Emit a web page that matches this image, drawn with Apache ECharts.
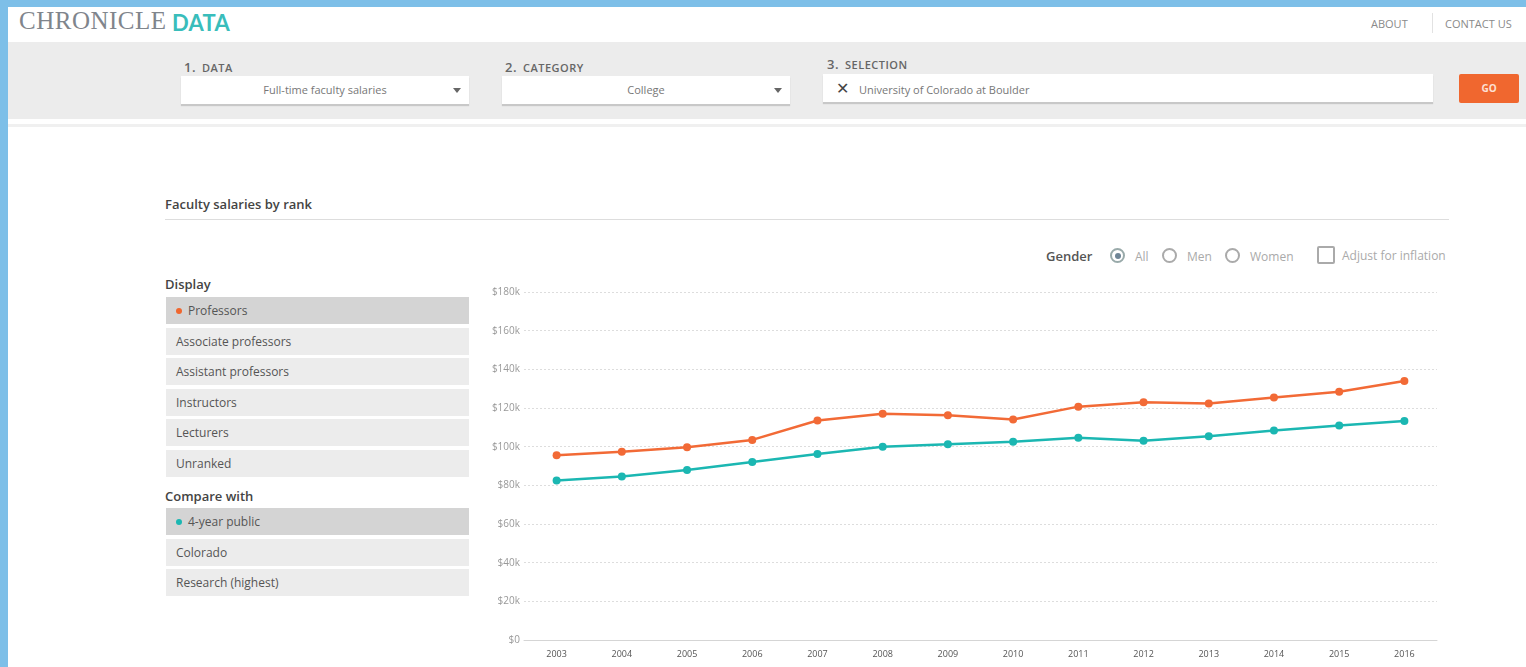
<!DOCTYPE html>
<html>
<head>
<meta charset="utf-8">
<script src="https://cdn.jsdelivr.net/npm/echarts@6/dist/echarts.min.js"></script>
<style>
  html, body { margin:0; padding:0; width:1526px; height:667px; overflow:hidden; background:#7dbfe8; font-family:"Open Sans", Lato, sans-serif; }
  #page { position:absolute; left:8px; top:7px; right:0; bottom:0; background:#fff; }
  .abs { position:absolute; }
  #hdr { left:0; top:0; right:0; height:35px; background:#fff; }
  #band { left:0; top:35px; right:0; height:77px; background:#ececec; border-bottom:1px solid #fff; }
  #sep { left:0; top:117px; right:0; height:3px; background:#f0f0f0; }
  .logo1 { font-family:"Liberation Serif", "DejaVu Serif", serif; font-size:25px; color:#80858c; letter-spacing:0.5px; }
  .logo2 { font-family:Lato, sans-serif; font-weight:bold; font-size:22px; color:#39bdbb; letter-spacing:0.3px; }
  .nav { font-family:"Open Sans", sans-serif; font-size:11px; color:#8a8a8a; }
  .lbl { font-size:11px; color:#666; font-weight:600; letter-spacing:0.5px; }
  .lbl b { font-size:13px; font-weight:600; margin-right:6px; }
  .box { background:#fff; height:28px; box-shadow:0 2px 1px #c8c8c8; font-size:11px; color:#777; line-height:28px; }
  .arrow { position:absolute; right:8px; top:12px; width:0; height:0; border-left:4px solid transparent; border-right:4px solid transparent; border-top:5px solid #666; }
  #go { background:#f0672f; color:#fde0d3; font-size:10px; font-weight:bold; text-align:center; line-height:29px; border-radius:2px; width:60px; height:29px; }
  .title { font-size:13px; font-weight:600; color:#444; }
  .item { left:158px; width:303px; height:27px; background:#ececec; font-size:12px; color:#555; line-height:27px; text-indent:10px; }
  .item.sel { background:#d4d4d4; }
  .dot { display:inline-block; width:6px; height:6px; border-radius:3px; margin-right:6px; vertical-align:1px; text-indent:0; }
  .head { font-size:13px; font-weight:600; color:#444; left:157px; }
  .radio { width:15px; height:15px; border:2px solid #aaa; border-radius:50%; box-sizing:border-box; }
  .small { font-size:12px; color:#aaa; }
  #chart { left:462px; top:263px; width:1000px; height:397px; }
</style>
</head>
<body>
<div id="page">
  <div id="hdr" class="abs">
    <span class="abs logo1" style="left:11px;top:0px;">CHRONICLE</span>
    <span class="abs logo2" style="left:164px;top:2px;">DATA</span>
    <span class="abs nav" style="left:1363px;top:9px;">ABOUT</span>
    <span class="abs" style="left:1424px;top:6px;width:1px;height:20px;background:#e2e2e2;"></span>
    <span class="abs nav" style="left:1437px;top:9px;">CONTACT US</span>
  </div>
  <div id="band" class="abs"></div>
  <div id="sep" class="abs"></div>

  <div class="abs lbl" style="left:176px;top:51px;"><b>1.</b>DATA</div>
  <div class="abs box" style="left:173px;top:69px;width:288px;text-align:center;">Full-time faculty salaries<span class="arrow"></span></div>
  <div class="abs lbl" style="left:497px;top:51px;"><b>2.</b>CATEGORY</div>
  <div class="abs box" style="left:494px;top:69px;width:288px;text-align:center;">College<span class="arrow"></span></div>
  <div class="abs lbl" style="left:819px;top:48px;"><b>3.</b>SELECTION</div>
  <div class="abs box" style="left:815px;top:67px;width:610px;"><span style="font-size:16px;color:#444;margin:0 10px 0 13px;">✕</span>University of Colorado at Boulder</div>
  <div id="go" class="abs" style="left:1451px;top:67px;">GO</div>

  <div class="abs title" style="left:157px;top:188px;">Faculty salaries by rank</div>
  <div class="abs" style="left:157px;top:212px;width:1284px;height:1px;background:#ddd;"></div>

  <div class="abs" style="left:1038px;top:240px;font-size:13px;font-weight:600;color:#555;">Gender</div>
  <div class="abs radio" style="left:1102px;top:241px;border-color:#9aa;"><div style="margin:2.5px;width:6px;height:6px;border-radius:50%;background:#6f8596;"></div></div>
  <div class="abs small" style="left:1127px;top:241px;">All</div>
  <div class="abs radio" style="left:1154px;top:241px;"></div>
  <div class="abs small" style="left:1179px;top:241px;">Men</div>
  <div class="abs radio" style="left:1217px;top:241px;"></div>
  <div class="abs small" style="left:1242px;top:241px;">Women</div>
  <div class="abs" style="left:1309px;top:239px;width:18px;height:18px;border:2px solid #aaa;border-radius:2px;box-sizing:border-box;"></div>
  <div class="abs small" style="left:1334px;top:240px;">Adjust for inflation</div>

  <div class="abs head" style="top:268px;">Display</div>
  <div class="abs item sel" style="top:290px;"><span class="dot" style="background:#f0672f;"></span>Professors</div>
  <div class="abs item" style="top:321px;">Associate professors</div>
  <div class="abs item" style="top:351px;">Assistant professors</div>
  <div class="abs item" style="top:382px;">Instructors</div>
  <div class="abs item" style="top:412px;">Lecturers</div>
  <div class="abs item" style="top:443px;">Unranked</div>
  <div class="abs head" style="top:480px;">Compare with</div>
  <div class="abs item sel" style="top:501px;"><span class="dot" style="background:#1bb7b2;"></span>4-year public</div>
  <div class="abs item" style="top:532px;">Colorado</div>
  <div class="abs item" style="top:562px;">Research (highest)</div>

  <div id="chart" class="abs"></div>
</div>
<script>
var years = ["2003","2004","2005","2006","2007","2008","2009","2010","2011","2012","2013","2014","2015","2016"];
// thousands of dollars
var professors = [95.5, 97.4, 99.7, 103.5, 113.5, 117, 116.2, 114, 120.7, 123, 122.3, 125.4, 128.4, 134];
var public4yr = [82.5, 84.6, 87.9, 92.1, 96.2, 100, 101.2, 102.5, 104.6, 103, 105.4, 108.3, 110.9, 113.3];
var yTicks = [0, 20, 40, 60, 80, 100, 120, 140, 160, 180];

var myChart = echarts.init(document.getElementById('chart'));
var option = {
    animation: false,
    grid: { left: 54, right: 33, top: 22, bottom: 27 },
    xAxis: {
        type: 'category',
        data: years,
        boundaryGap: true,
        axisLine: { lineStyle: { color: '#d5d5d5', width: 1 } },
        axisTick: { alignWithLabel: true, length: 4, lineStyle: { color: '#ccc' } },
        axisLabel: { color: '#555', fontSize: 9, fontFamily: 'Open Sans', margin: 10 }
    },
    yAxis: {
        type: 'value',
        min: yTicks[0],
        max: yTicks[yTicks.length - 1],
        interval: 20,
        axisLine: { show: false },
        axisTick: { show: false },
        axisLabel: {
            color: '#999', fontSize: 10, fontFamily: 'Open Sans', margin: 4,
            formatter: function (v) { return v === 0 ? '$0' : '$' + v + 'k'; }
        },
        splitLine: { lineStyle: { color: '#ddd', type: [2, 2] } }
    },
    series: [
        {
            name: 'Professors', type: 'line', data: professors,
            symbol: 'circle', symbolSize: 8,
            lineStyle: { width: 2.5, color: '#f26a36' },
            itemStyle: { color: '#f26a36' }
        },
        {
            name: '4-year public', type: 'line', data: public4yr,
            symbol: 'circle', symbolSize: 8,
            lineStyle: { width: 2.5, color: '#1bb7b2' },
            itemStyle: { color: '#1bb7b2' }
        }
    ]
};
myChart.setOption(option);
</script>
</body>
</html>
